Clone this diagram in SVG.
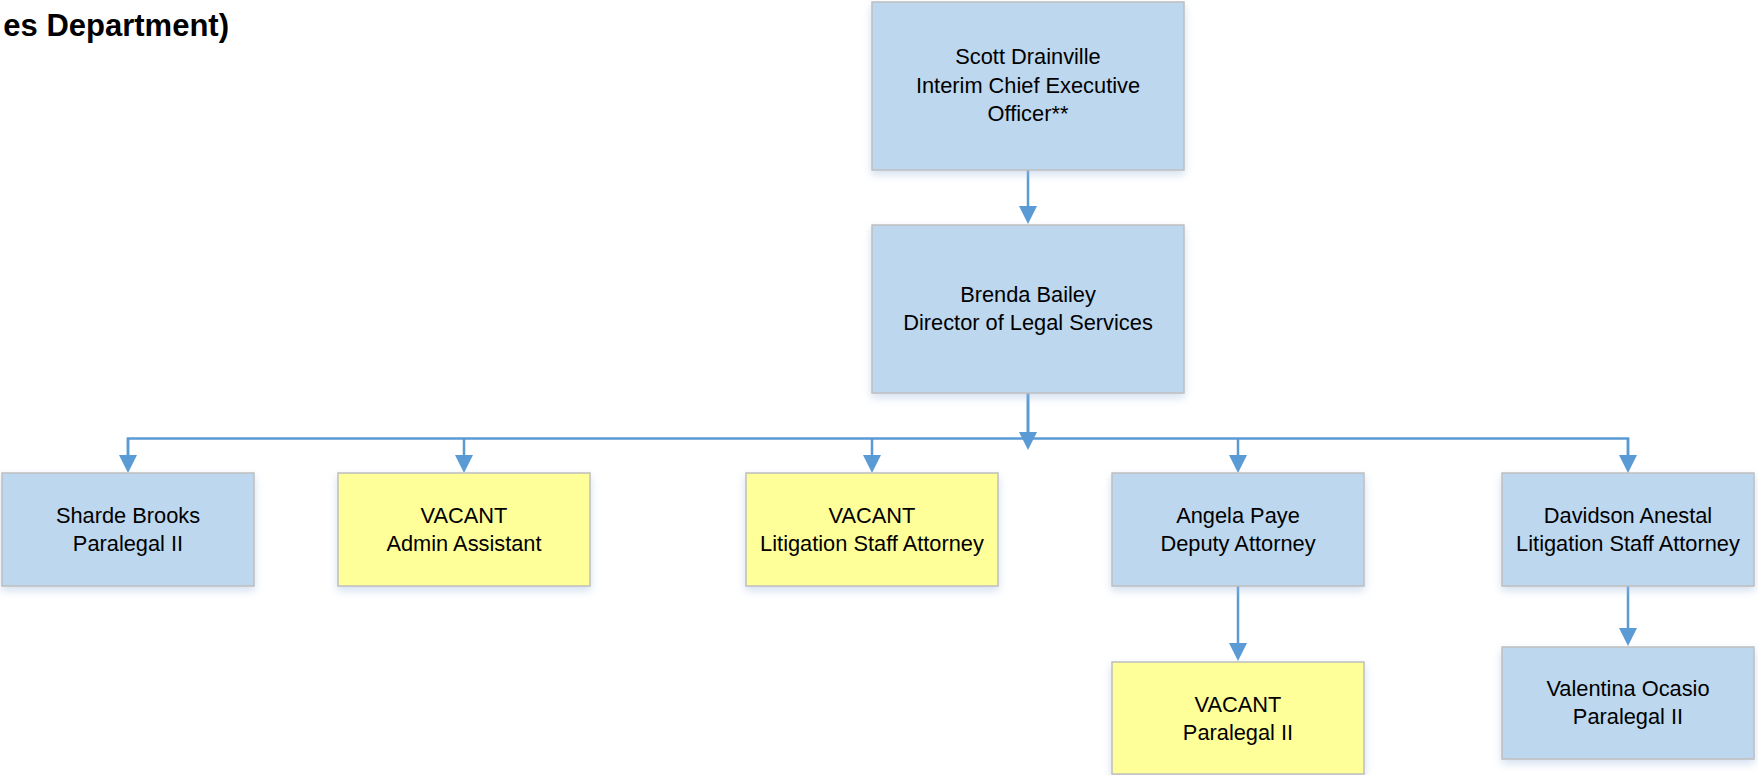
<svg xmlns="http://www.w3.org/2000/svg" width="1758" height="775" viewBox="0 0 1758 775">
  <style>
    .box { stroke: #BFBFBF; stroke-width: 1.5; filter: url(#shadow); }
    .filled { fill: #BDD7EE; }
    .vacant { fill: #FFFF99; }
    .lbl { font-family: "Liberation Sans", Arial, sans-serif; font-size: 21.8px; fill: #000; text-anchor: middle; }
    .title { font-family: "Liberation Sans", Arial, sans-serif; font-size: 31px; font-weight: bold; fill: #000; text-anchor: end; }
    .conn { stroke: #5B9BD5; fill: none; stroke-width: 2.5; marker-end: url(#arrow); }
    .bus { stroke: #5B9BD5; fill: none; stroke-width: 2.5; }
  </style>
  <defs>
    <marker id="arrow" viewBox="0 0 18 18" refX="14" refY="9" markerWidth="18" markerHeight="18" markerUnits="userSpaceOnUse" orient="auto">
      <path d="M0,0 L18,9 L0,18 z" fill="#5B9BD5"/>
    </marker>
    <filter id="shadow" x="-10%" y="-10%" width="120%" height="130%">
      <feDropShadow dx="0" dy="4" stdDeviation="4" flood-color="#9DB9DC" flood-opacity="0.45"/>
    </filter>
  </defs>
  <rect width="1758" height="775" fill="#FFFFFF"/>

  <text class="title" x="229" y="36">es Department)</text>

  <g id="connectors">
    <line class="conn" x1="1028" y1="170" x2="1028" y2="220"/>
    <line class="conn" x1="1028" y1="393" x2="1028" y2="446" style="stroke-width:3"/>
    <polyline class="bus" points="128,457 128,438.5 1628,438.5 1628,457"/>
    <line class="conn" x1="128" y1="438" x2="128" y2="469"/>
    <line class="conn" x1="464" y1="438" x2="464" y2="469"/>
    <line class="conn" x1="872" y1="438" x2="872" y2="469"/>
    <line class="conn" x1="1238" y1="438" x2="1238" y2="469"/>
    <line class="conn" x1="1628" y1="438" x2="1628" y2="469"/>
    <line class="conn" x1="1238" y1="586" x2="1238" y2="657"/>
    <line class="conn" x1="1628" y1="586" x2="1628" y2="642"/>
  </g>

  <g id="ceo">
    <rect class="box filled" x="872" y="2" width="312" height="168"/>
    <text class="lbl" x="1028" y="64">Scott Drainville</text>
    <text class="lbl" x="1028" y="92.5">Interim Chief Executive</text>
    <text class="lbl" x="1028" y="121">Officer**</text>
  </g>

  <g id="director">
    <rect class="box filled" x="872" y="225" width="312" height="168"/>
    <text class="lbl" x="1028" y="302">Brenda Bailey</text>
    <text class="lbl" x="1028" y="330">Director of Legal Services</text>
  </g>

  <g id="sharde">
    <rect class="box filled" x="2" y="473" width="252" height="113"/>
    <text class="lbl" x="128" y="523">Sharde Brooks</text>
    <text class="lbl" x="128" y="551">Paralegal II</text>
  </g>

  <g id="admin-vacant">
    <rect class="box vacant" x="338" y="473" width="252" height="113"/>
    <text class="lbl" x="464" y="523">VACANT</text>
    <text class="lbl" x="464" y="551">Admin Assistant</text>
  </g>

  <g id="litigation-vacant">
    <rect class="box vacant" x="746" y="473" width="252" height="113"/>
    <text class="lbl" x="872" y="523">VACANT</text>
    <text class="lbl" x="872" y="551">Litigation Staff Attorney</text>
  </g>

  <g id="angela">
    <rect class="box filled" x="1112" y="473" width="252" height="113"/>
    <text class="lbl" x="1238" y="523">Angela Paye</text>
    <text class="lbl" x="1238" y="551">Deputy Attorney</text>
  </g>

  <g id="davidson">
    <rect class="box filled" x="1502" y="473" width="252" height="113"/>
    <text class="lbl" x="1628" y="523">Davidson Anestal</text>
    <text class="lbl" x="1628" y="551">Litigation Staff Attorney</text>
  </g>

  <g id="paralegal-vacant">
    <rect class="box vacant" x="1112" y="662" width="252" height="112"/>
    <text class="lbl" x="1238" y="712">VACANT</text>
    <text class="lbl" x="1238" y="740">Paralegal II</text>
  </g>

  <g id="valentina">
    <rect class="box filled" x="1502" y="647" width="252" height="112"/>
    <text class="lbl" x="1628" y="696">Valentina Ocasio</text>
    <text class="lbl" x="1628" y="724">Paralegal II</text>
  </g>
</svg>
